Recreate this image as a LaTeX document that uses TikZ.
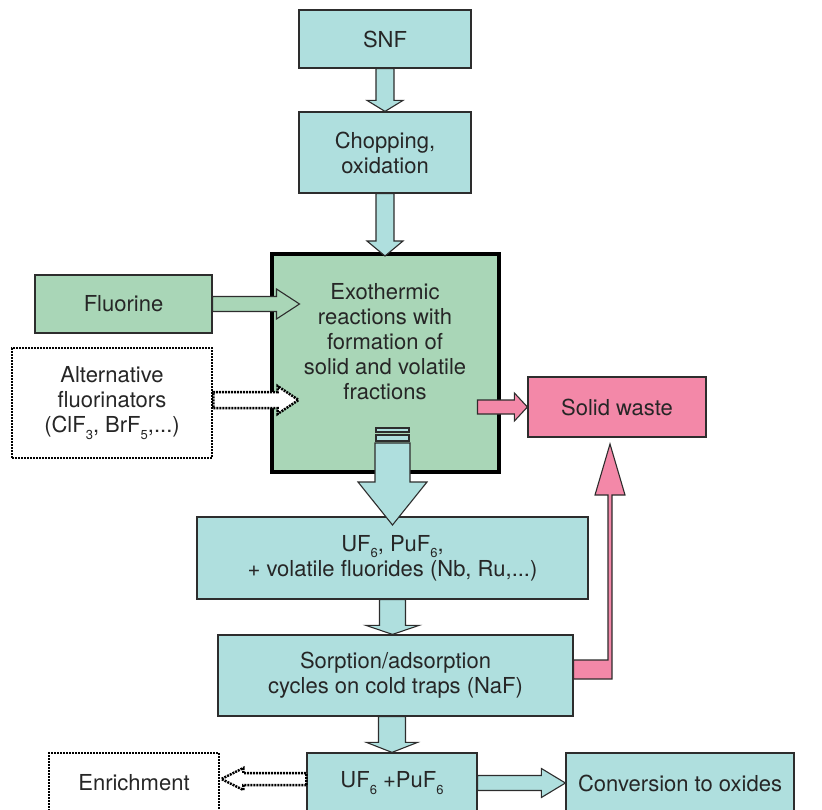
\documentclass[tikz,border=0pt]{standalone}
\usepackage{fontspec}
\setmainfont{TeX Gyre Heros}
\usetikzlibrary{calc}

\definecolor{turkiz}{RGB}{175,223,222}
\definecolor{zold}{RGB}{169,214,183}
\definecolor{rozsa}{RGB}{243,136,168}
\definecolor{keret}{RGB}{45,45,45}

% also index, melyebben
\newcommand{\ai}[1]{\raisebox{-0.55ex}{\fontsize{13}{13}\selectfont #1}}
% lefele mutato tomb nyil: stilus, kezdet, veg, szar fel, fej fel, fej hossz
\newcommand{\lenyil}[6]{%
  \draw[#1] let \p1=#2, \p2=#3 in
    (\x1-#4pt,\y1) -- (\x1+#4pt,\y1) -- (\x1+#4pt,\y2+#6pt) -- (\x1+#5pt,\y2+#6pt)
    -- (\x1,\y2) -- (\x1-#5pt,\y2+#6pt) -- (\x1-#4pt,\y2+#6pt) -- cycle;}
% vizszintes tomb nyil
\newcommand{\oldalnyil}[6]{%
  \draw[#1] let \p1=#2, \p2=#3, \n1={sign(\x2-\x1)} in
    (\x1,\y1-#4pt) -- (\x2-\n1*#6pt,\y1-#4pt) -- (\x2-\n1*#6pt,\y1-#5pt) -- (\x2,\y1)
    -- (\x2-\n1*#6pt,\y1+#5pt) -- (\x2-\n1*#6pt,\y1+#4pt) -- (\x1,\y1+#4pt) -- cycle;}

\begin{document}
\begin{tikzpicture}[x=1pt, y=-1pt,
    doboz/.style={draw=keret, line width=1.2pt, text=black!85, align=center, inner sep=0pt,
      font=\fontsize{22}{25}\selectfont},
    pontozott/.style={draw=black, line width=2.8pt, dash pattern=on 2pt off 1pt, fill=white},
    nyil/.style={draw=keret, line width=1.1pt, fill=turkiz},
    zoldnyil/.style={draw=keret, line width=1.1pt, fill=zold},
    rozsanyil/.style={draw=keret, line width=1.1pt, fill=rozsa},
    feher/.style={pontozott, line width=2.5pt}]
    \useasboundingbox (0,0) rectangle (822,810);

    \node[doboz, fill=turkiz, minimum width=172, minimum height=58] (snf) at (385,39) {SNF};
    \node[doboz, fill=turkiz, minimum width=172, minimum height=81] (chop) at (385,152.5) {Chopping,\\oxidation};
    \node[draw=black, line width=4pt, fill=zold, minimum width=227, minimum height=218] (exo) at (385,363) {};
    \node[text=black!85, align=center, font=\fontsize{22}{25}\selectfont] (exotext) at (385,342)
      {Exothermic\\reactions with\\formation of\\solid and volatile\\fractions};
    \node[doboz, fill=zold, minimum width=177, minimum height=58] (fluor) at (123.5,304) {Fluorine};
    \node[doboz, pontozott, minimum width=200, minimum height=110] (alt) at (112,403)
      {Alternative\\fluorinators\\(ClF\ai{3}, BrF\ai{5},...)};
    \node[doboz, fill=rozsa, minimum width=178, minimum height=60] (waste) at (617,407) {Solid waste};
    \node[doboz, fill=turkiz, minimum width=391, minimum height=82] (ufmix) at (392.5,558)
      {UF\ai{6}, PuF\ai{6},\\+ volatile fluorides (Nb, Ru,...)};
    \node[doboz, fill=turkiz, minimum width=355, minimum height=81] (sorp) at (395.5,675.5)
      {Sorption/adsorption\\cycles on cold traps (NaF)};
    \node[doboz, pontozott, minimum width=170, minimum height=60] (enrich) at (134,783) {Enrichment};
    \node[doboz, fill=turkiz, minimum width=170, minimum height=60] (ufpu) at (392,783)
      {UF\ai{6} +PuF\ai{6}};
    \node[doboz, fill=turkiz, minimum width=228, minimum height=60] (conv) at (680,783) {Conversion to oxides};

    \coordinate (nagyk) at (392.5,443);
    \coordinate (nagyv) at (392.5,525);

    \lenyil{nyil}{(snf.south)}{(chop.north)}{9}{18}{11}
    \lenyil{nyil}{(chop.south)}{($(exo.north)+(0,4)$)}{9}{18}{15}
    \draw[nyil] (376,428) rectangle (409,432);
    \draw[nyil] (376,435) rectangle (409,441);
    \lenyil{nyil}{(nagyk)}{(nagyv)}{17.5}{34.5}{43}
    \lenyil{nyil}{(ufmix.south)}{(sorp.north -| ufmix.south)}{13}{26.5}{9}
    \lenyil{nyil}{(sorp.south -| ufpu.north)}{(ufpu.north)}{13.5}{25.5}{10}
    \oldalnyil{zoldnyil}{(fluor.east)}{($(fluor.east -| exo.west)+(30,0)$)}{7.5}{15}{23}
    \oldalnyil{feher}{($(alt.east)+(0,-3)$)}{($(alt.east -| exo.west)+(29,-3)$)}{8}{14}{21}
    \oldalnyil{rozsanyil}{($(waste.west -| exo.east)+(-23,0)$)}{(waste.west)}{7}{14}{13}
    \oldalnyil{nyil}{(ufpu.east)}{(conv.west)}{7.5}{14.5}{24}
    \oldalnyil{feher}{($(ufpu.west)+(0,-4)$)}{($(enrich.east)+(1,-4)$)}{6}{11}{22}
    \draw[rozsanyil] ($(sorp.east)+(0,-15.5)$) -- (608,660) -- (608,495) -- (595,495) -- (610,444)
      -- (625,495) -- (612,495) -- (612,679) -- ($(sorp.east)+(0,3.5)$) -- cycle;
\end{tikzpicture}
\end{document}
